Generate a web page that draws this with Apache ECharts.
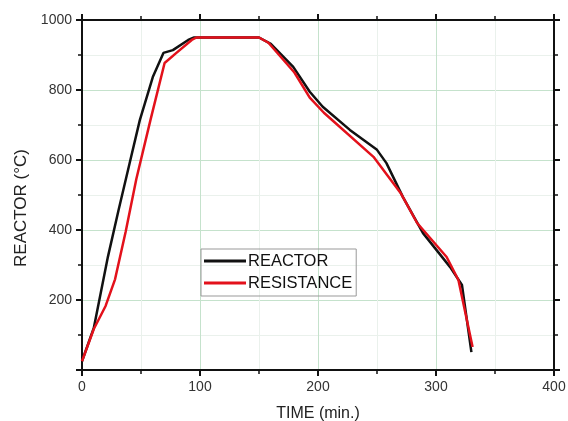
<!DOCTYPE html>
<html>
<head>
<meta charset="utf-8">
<script src="https://cdn.jsdelivr.net/npm/echarts@6/dist/echarts.min.js"></script>
<style>html,body{margin:0;padding:0;background:#fff}#c{width:568px;height:421px}</style>
</head>
<body>
<div id="c"></div>
<script>
const reactorTime = [0, 10, 22, 31, 41, 49, 60, 69, 77, 90, 95, 150, 160, 179, 193, 204, 227, 250, 258, 272, 289, 312, 322, 330];
const reactorTemp = [25, 120, 324, 457, 600, 714, 837, 906, 914, 943, 950, 950, 932, 866, 795, 752, 686, 629, 591, 494, 391, 294, 243, 51];
const resistTime = [0, 10, 20, 28, 37, 46, 58, 70, 80, 93, 97, 150, 158, 180, 193, 205, 247, 270, 284, 309, 319, 331];
const resistTemp = [25, 117, 183, 259, 395, 545, 714, 877, 906, 943, 950, 950, 935, 850, 778, 735, 609, 506, 420, 323, 257, 66];
const seriesNames = ['REACTOR', 'RESISTANCE'];
const xTitle = 'TIME (min.)';
const yTitle = 'REACTOR (°C)';

const pairs = (t, v) => t.map((x, i) => [x, v[i]]);
const font = 'Liberation Sans, Arial, sans-serif';
const majorGrid = { show: true, lineStyle: { color: '#c5e2cc', width: 1 } };
const minorGrid = { show: true, lineStyle: { color: '#eaf1ec', width: 1 } };
const axisLine = { show: true, onZero: false, lineStyle: { color: '#111', width: 2 } };
const tick = { show: true, length: 6, lineStyle: { color: '#111', width: 2 } };
const minorTick = { show: true, splitNumber: 2, length: 4, lineStyle: { color: '#111', width: 1.5 } };

const chart = echarts.init(document.getElementById('c'), null, { renderer: 'canvas' });
chart.setOption({
  animation: false,
  backgroundColor: '#fff',
  grid: { left: 82, right: 14, top: 20, bottom: 51, containLabel: false, outerBoundsMode: 'none' },
  legend: {
    orient: 'vertical',
    left: 201, top: 249,
    data: seriesNames,
    icon: 'rect',
    itemWidth: 42, itemHeight: 3,
    itemGap: 4,
    padding: [3, 4, 4, 3],
    borderColor: '#999', borderWidth: 1,
    textStyle: { fontFamily: font, fontSize: 16.5, lineHeight: 18, color: '#111', padding: [0, 0, 0, -3] }
  },
  xAxis: [
    { type: 'value', min: 0, max: 400, interval: 100, position: 'bottom',
      name: xTitle, nameLocation: 'middle', nameGap: 36,
      nameTextStyle: { fontFamily: font, fontSize: 16, color: '#222' },
      axisLine, axisTick: tick, minorTick,
      axisLabel: { fontFamily: font, fontSize: 14, color: '#333', margin: 10 },
      splitLine: majorGrid, minorSplitLine: minorGrid },
    { type: 'value', min: 0, max: 400, interval: 100, position: 'top',
      axisLine, axisTick: tick, minorTick, axisLabel: { show: false },
      splitLine: { show: false } }
  ],
  yAxis: [
    { type: 'value', min: 0, max: 1000, interval: 200, position: 'left',
      name: yTitle, nameLocation: 'middle', nameGap: 49, nameRotate: 90,
      nameTextStyle: { fontFamily: font, fontSize: 17, color: '#222', padding: [0, 26, 0, 0] },
      axisLine, axisTick: tick, minorTick,
      axisLabel: { fontFamily: font, fontSize: 14, color: '#333', margin: 10,
        formatter: v => v === 0 ? '' : String(v) },
      splitLine: majorGrid, minorSplitLine: minorGrid },
    { type: 'value', min: 0, max: 1000, interval: 200, position: 'right',
      axisLine, axisTick: tick, minorTick, axisLabel: { show: false },
      splitLine: { show: false } }
  ],
  series: [
    { name: seriesNames[0], type: 'line', data: pairs(reactorTime, reactorTemp),
      showSymbol: false, symbol: 'none', color: '#111',
      lineStyle: { color: '#111', width: 2.5 }, z: 3 },
    { name: seriesNames[1], type: 'line', data: pairs(resistTime, resistTemp),
      showSymbol: false, symbol: 'none', color: '#e3111b',
      lineStyle: { color: '#e3111b', width: 2.5 }, z: 4 }
  ]
});
</script>
</body>
</html>
